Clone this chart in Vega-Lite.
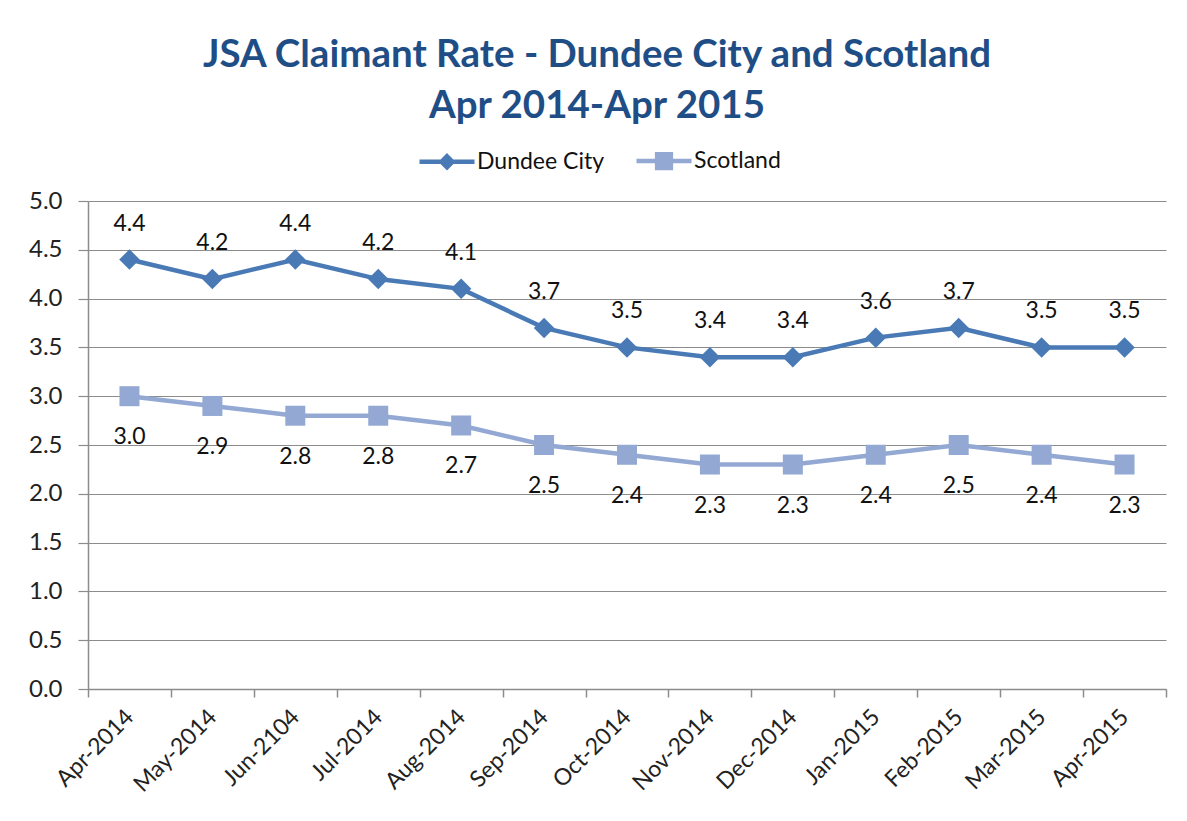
{
  "$schema": "https://vega.github.io/schema/vega-lite/v6.json",
  "width": 1078,
  "height": 488,
  "autosize": "none",
  "padding": {"left": 88, "top": 201, "right": 21, "bottom": 132},
  "background": "white",
  "config": {
    "font": "Lato",
    "view": {"stroke": null}
  },
  "title": {
    "text": ["JSA Claimant Rate - Dundee City and Scotland", "Apr 2014-Apr 2015"],
    "anchor": "middle",
    "frame": "group",
    "dx": -30,
    "fontSize": 38.5,
    "fontWeight": "bold",
    "color": "#1F4E86",
    "lineHeight": 51,
    "offset": 5,
    "font": "Lato"
  },
  "data": {
    "values": [
      {"Month": "Apr-2014", "Series": "Dundee City", "Rate": 4.4},
      {"Month": "May-2014", "Series": "Dundee City", "Rate": 4.2},
      {"Month": "Jun-2104", "Series": "Dundee City", "Rate": 4.4},
      {"Month": "Jul-2014", "Series": "Dundee City", "Rate": 4.2},
      {"Month": "Aug-2014", "Series": "Dundee City", "Rate": 4.1},
      {"Month": "Sep-2014", "Series": "Dundee City", "Rate": 3.7},
      {"Month": "Oct-2014", "Series": "Dundee City", "Rate": 3.5},
      {"Month": "Nov-2014", "Series": "Dundee City", "Rate": 3.4},
      {"Month": "Dec-2014", "Series": "Dundee City", "Rate": 3.4},
      {"Month": "Jan-2015", "Series": "Dundee City", "Rate": 3.6},
      {"Month": "Feb-2015", "Series": "Dundee City", "Rate": 3.7},
      {"Month": "Mar-2015", "Series": "Dundee City", "Rate": 3.5},
      {"Month": "Apr-2015", "Series": "Dundee City", "Rate": 3.5},
      {"Month": "Apr-2014", "Series": "Scotland", "Rate": 3.0},
      {"Month": "May-2014", "Series": "Scotland", "Rate": 2.9},
      {"Month": "Jun-2104", "Series": "Scotland", "Rate": 2.8},
      {"Month": "Jul-2014", "Series": "Scotland", "Rate": 2.8},
      {"Month": "Aug-2014", "Series": "Scotland", "Rate": 2.7},
      {"Month": "Sep-2014", "Series": "Scotland", "Rate": 2.5},
      {"Month": "Oct-2014", "Series": "Scotland", "Rate": 2.4},
      {"Month": "Nov-2014", "Series": "Scotland", "Rate": 2.3},
      {"Month": "Dec-2014", "Series": "Scotland", "Rate": 2.3},
      {"Month": "Jan-2015", "Series": "Scotland", "Rate": 2.4},
      {"Month": "Feb-2015", "Series": "Scotland", "Rate": 2.5},
      {"Month": "Mar-2015", "Series": "Scotland", "Rate": 2.4},
      {"Month": "Apr-2015", "Series": "Scotland", "Rate": 2.3}
    ]
  },
  "encoding": {
    "x": {
      "field": "Month",
      "type": "ordinal",
      "sort": null,
      "scale": {"type": "band", "paddingInner": 0, "paddingOuter": 0},
      "axis": {
        "title": null,
        "tickBand": "extent",
        "labelAngle": -45,
        "labelAlign": "right",
        "labelBaseline": "middle",
        "labelFontSize": 23,
        "labelColor": "#222222",
        "labelPadding": 16,
        "domainColor": "#8C8C8C",
        "domainWidth": 1.5,
        "tickColor": "#8C8C8C",
        "tickSize": 8,
        "tickWidth": 1.5,
        "grid": false
      }
    },
    "y": {
      "field": "Rate",
      "type": "quantitative",
      "scale": {"domain": [0, 5], "nice": false},
      "axis": {
        "title": null,
        "values": [0, 0.5, 1, 1.5, 2, 2.5, 3, 3.5, 4, 4.5, 5],
        "format": ".1f",
        "labelFontSize": 24,
        "labelColor": "#222222",
        "labelPadding": 16,
        "domainColor": "#8C8C8C",
        "domainWidth": 1.5,
        "tickColor": "#8C8C8C",
        "tickSize": 10,
        "tickWidth": 1.2,
        "grid": true,
        "gridColor": "#8C8C8C",
        "gridWidth": 1.2
      }
    },
    "color": {
      "field": "Series",
      "type": "nominal",
      "scale": {"domain": ["Dundee City", "Scotland"], "range": ["#4A7AB5", "#93A9D3"]},
      "legend": {
        "title": null,
        "orient": "none",
        "direction": "horizontal",
        "legendX": 329,
        "legendY": -70,
        "labelFontSize": 23,
        "labelColor": "#111111",
        "labelOffset": 0,
        "columnPadding": 22,
        "symbolSize": 3025,
        "symbolStrokeWidth": 4.5,
        "encode": {
          "symbols": {
            "update": {
              "shape": {"signal": "datum.value === 'Dundee City' ? 'M-1,0H1M0,-0.2L0.2,0L0,0.2L-0.2,0Z' : 'M-1,0H1M-0.25,-0.25H0.25V0.25H-0.25Z'"},
              "fill": {"signal": "datum.value === 'Dundee City' ? '#4A7AB5' : '#93A9D3'"},
              "stroke": {"signal": "datum.value === 'Dundee City' ? '#4A7AB5' : '#93A9D3'"},
              "fillOpacity": {"value": 1},
              "opacity": {"value": 1}
            }
          }
        }
      }
    }
  },
  "layer": [
    {
      "mark": {"type": "line", "strokeWidth": 4.5}
    },
    {
      "transform": [{"filter": "datum.Series === 'Dundee City'"}],
      "mark": {"type": "point", "filled": true, "opacity": 1, "size": 420, "shape": "diamond"}
    },
    {
      "transform": [{"filter": "datum.Series === 'Scotland'"}],
      "mark": {"type": "point", "filled": true, "opacity": 1, "size": 400, "shape": "square"}
    },
    {
      "transform": [{"filter": "datum.Series === 'Dundee City'"}],
      "mark": {"type": "text", "dy": -36, "fontSize": 23, "baseline": "middle"},
      "encoding": {
        "text": {"field": "Rate", "type": "quantitative", "format": ".1f"},
        "color": {"value": "#111111"}
      }
    },
    {
      "transform": [{"filter": "datum.Series === 'Scotland'"}],
      "mark": {"type": "text", "dy": 41, "fontSize": 23, "baseline": "middle"},
      "encoding": {
        "text": {"field": "Rate", "type": "quantitative", "format": ".1f"},
        "color": {"value": "#111111"}
      }
    }
  ]
}
